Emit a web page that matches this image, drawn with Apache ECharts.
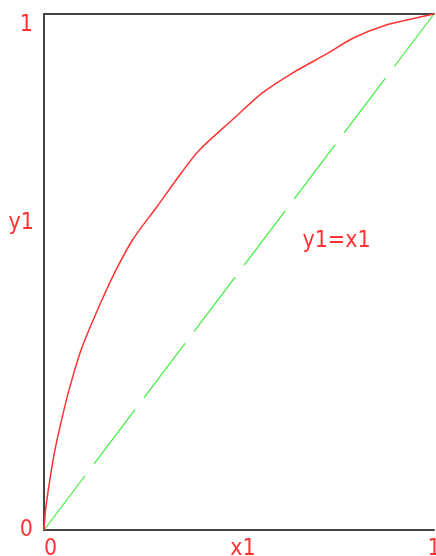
<!DOCTYPE html>
<html>
<head>
<meta charset="utf-8">
<script src="https://cdn.jsdelivr.net/npm/echarts@6/dist/echarts.min.js"></script>
<style>
  html, body { margin: 0; padding: 0; background: #fff; }
  #chart { width: 436px; height: 556px; }
</style>
</head>
<body>
<div id="chart"></div>
<script>
// Curve y1 = f(x1), sampled points
const curveX = [0, 0.004, 0.015, 0.028, 0.045, 0.064, 0.095, 0.141, 0.180, 0.227, 0.290, 0.351, 0.398, 0.483, 0.560, 0.638, 0.728, 0.792, 0.879, 0.964, 1];
const curveY = [0, 0.039, 0.097, 0.155, 0.213, 0.271, 0.349, 0.433, 0.497, 0.562, 0.627, 0.691, 0.736, 0.795, 0.847, 0.886, 0.924, 0.953, 0.979, 0.994, 1];
// Reference diagonal y1 = x1
const diagX = [0, 1];
const diagY = [0, 1];
// Axis ticks
const tickValues = [0, 1];
// Annotation position for the diagonal label (data coords)
const diagLabelAt = [0.75, 0.56];
const diagLabelText = 'y1=x1';

const FONT = '"DejaVu Sans Condensed", "Liberation Sans", sans-serif';
const FS = 23;
const RED = '#ff3333';
const AXIS = '#444444';

const zip = (xs, ys) => xs.map((x, i) => [x, ys[i]]);

const chart = echarts.init(document.getElementById('chart'), null, { renderer: 'canvas' });
chart.setOption({
  animation: false,
  backgroundColor: '#ffffff',
  grid: { left: 44, right: 2, top: 14, bottom: 26, containLabel: false, outerBoundsMode: 'none' },
  xAxis: [{
    type: 'value', min: 0, max: 1, interval: 1,
    name: 'x1', nameLocation: 'middle', nameGap: 8, nameMoveOverlap: false,
    nameTextStyle: { color: RED, fontFamily: FONT, fontSize: FS, verticalAlign: 'top', padding: [0, 0, 0, 8] },
    axisLine: { show: true, lineStyle: { color: AXIS, width: 2 } },
    axisTick: { show: false },
    splitLine: { show: false },
    axisLabel: {
      color: RED, fontFamily: FONT, fontSize: FS, margin: 8,
      showMinLabel: true, showMaxLabel: true, hideOverlap: false,
      alignMinLabel: 'left', alignMaxLabel: 'center',
      formatter: v => tickValues.includes(v) ? String(v) : ''
    }
  }, {
    type: 'value', min: 0, max: 1, position: 'top',
    axisLine: { show: true, onZero: false, lineStyle: { color: AXIS, width: 2 } },
    axisTick: { show: false }, axisLabel: { show: false }, splitLine: { show: false }
  }],
  yAxis: {
    type: 'value', min: 0, max: 1, interval: 1,
    name: 'y1', nameLocation: 'end', nameGap: -209, nameRotate: 0, nameMoveOverlap: false,
    nameTextStyle: { color: RED, fontFamily: FONT, fontSize: FS, align: 'right', verticalAlign: 'middle', padding: [0, 10, 0, 0] },
    axisLine: { show: true, lineStyle: { color: AXIS, width: 2 } },
    axisTick: { show: false },
    splitLine: { show: false },
    axisLabel: {
      color: RED, fontFamily: FONT, fontSize: FS, margin: 11,
      verticalAlignMaxLabel: 'top',
      formatter: v => tickValues.includes(v) ? String(v) : ''
    }
  },
  series: [{
    type: 'line',
    data: zip(curveX, curveY),
    smooth: 0.3,
    showSymbol: false,
    lineStyle: { color: RED, width: 1.5 },
    z: 3
  }, {
    type: 'line',
    data: zip(diagX, diagY),
    showSymbol: false,
    lineStyle: { color: '#3dee3d', width: 1.2, type: [68, 15] },
    markPoint: {
      symbol: 'circle', symbolSize: 0,
      data: [{ coord: diagLabelAt, value: diagLabelText }],
      label: { show: true, formatter: diagLabelText, color: RED, fontFamily: FONT, fontSize: FS, position: 'inside' }
    },
    z: 2
  }]
});
</script>
</body>
</html>
